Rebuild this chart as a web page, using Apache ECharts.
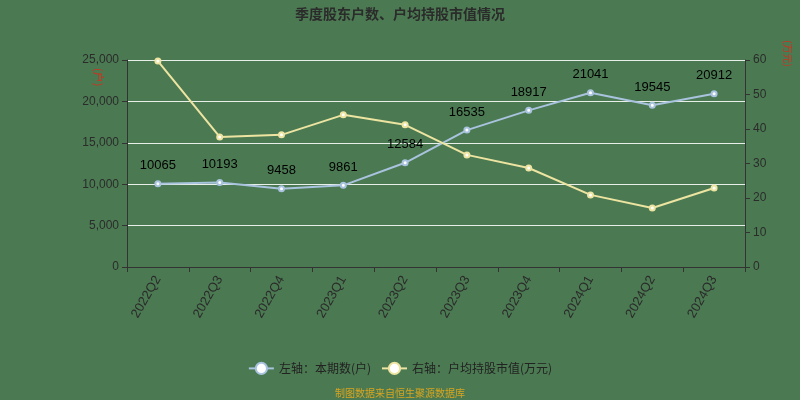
<!DOCTYPE html>
<html><head><meta charset="utf-8">
<script src="https://cdn.jsdelivr.net/npm/echarts@6/dist/echarts.min.js"></script>
<style>html,body{margin:0;padding:0;background:#4b7a52;}#c{width:800px;height:400px;}</style>
</head><body><div id="c"></div>
<script>
var categories = ['2022Q2','2022Q3','2022Q4','2023Q1','2023Q2','2023Q3','2023Q4','2024Q1','2024Q2','2024Q3'];
var holders = [10065,10193,9458,9861,12584,16535,18917,21041,19545,20912];
var avgValue = [59.7,37.7,38.3,44.1,41.2,32.5,28.7,20.9,17.1,22.9];
var leftTicks = {min:0,max:25000,interval:5000};
var rightTicks = {min:0,max:60,interval:10};
var leftName = '(户)';
var rightName = '(万元)';

var chart = echarts.init(document.getElementById('c'));
chart.setOption({
  backgroundColor:'#4b7a52',
  title:{text:'季度股东户数、户均持股市值情况',left:'center',top:2,textStyle:{fontSize:14,fontWeight:'bold',color:'#2b2b2b',fontFamily:'Noto Sans CJK SC'}},
  grid:{left:127,right:55,top:60,bottom:133},
  legend:{bottom:20,left:'center',itemWidth:25,itemHeight:14,itemGap:10,textStyle:{color:'#222',fontSize:12,fontFamily:'Noto Sans CJK SC'},
    data:['左轴：本期数(户)','右轴：户均持股市值(万元)']},
  graphic:[
    {type:'text',left:'center',bottom:2,style:{text:'制图数据来自恒生聚源数据库',fill:'#d9a520',fontSize:10,fontFamily:'Noto Sans CJK SC'}},
    {type:'text',x:104,y:68,rotation:-Math.PI/2,style:{text:leftName,fill:'#d03020',fontSize:11,fontFamily:'Noto Sans CJK SC'}},
    {type:'text',x:793,y:40,rotation:-Math.PI/2,style:{text:rightName,fill:'#d03020',fontSize:10,fontFamily:'Noto Sans CJK SC'}}
  ],
  xAxis:{type:'category',data:categories,boundaryGap:true,
    axisLine:{lineStyle:{color:'#333'}},axisTick:{show:true,lineStyle:{color:'#333'}},
    axisLabel:{rotate:60,color:'#2b2b2b',fontSize:13,margin:10}},
  yAxis:[
    {type:'value',min:leftTicks.min,max:leftTicks.max,interval:leftTicks.interval,position:'left',
     axisLine:{show:true,lineStyle:{color:'#333'}},axisTick:{show:true,lineStyle:{color:'#333'}},
     axisLabel:{color:'#2b2b2b',fontSize:12,formatter:function(v){return v.toLocaleString('en-US');}},
     splitLine:{show:true,lineStyle:{color:'#e8eee8',width:1}}},
    {type:'value',min:rightTicks.min,max:rightTicks.max,interval:rightTicks.interval,position:'right',
     axisLine:{show:true,lineStyle:{color:'#333'}},axisTick:{show:true,lineStyle:{color:'#333'}},
     axisLabel:{color:'#2b2b2b',fontSize:12},splitLine:{show:false}}
  ],
  series:[
    {name:'左轴：本期数(户)',type:'line',yAxisIndex:0,data:holders,symbol:'emptyCircle',symbolSize:5,
     itemStyle:{color:'#a9c3de',borderColor:'#ffffff',borderWidth:1},lineStyle:{color:'#a9c3de',width:2},
     label:{show:true,position:'top',color:'#000',fontSize:13,distance:8}},
    {name:'右轴：户均持股市值(万元)',type:'line',yAxisIndex:1,data:avgValue,symbol:'emptyCircle',symbolSize:5,
     itemStyle:{color:'#ede4a2',borderColor:'#ffffff',borderWidth:1},lineStyle:{color:'#ede4a2',width:2}}
  ]
});
</script></body></html>
